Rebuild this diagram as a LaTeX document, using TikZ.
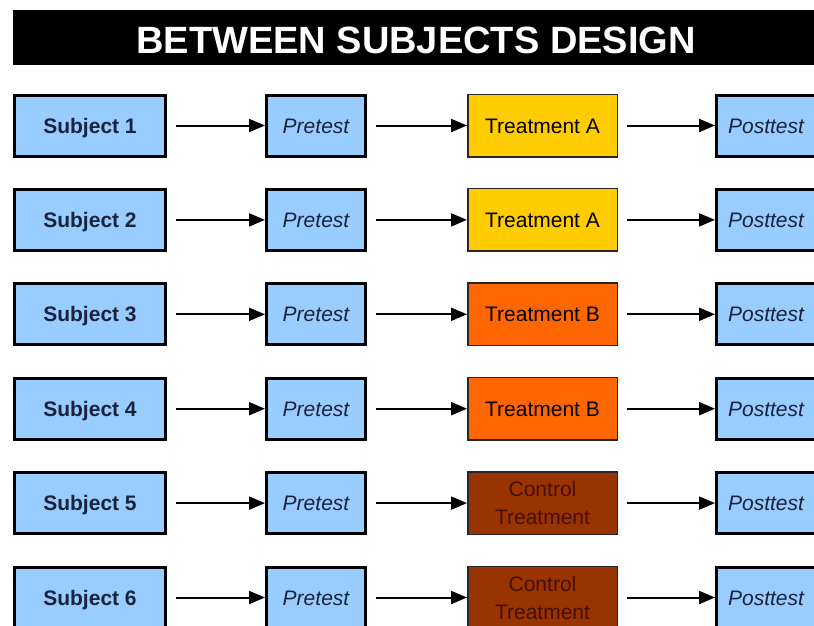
\documentclass[tikz,border=0pt]{standalone}
\usepackage{fontspec}
\setmainfont{Liberation Sans}
\usetikzlibrary{arrows.meta}
\definecolor{boxblue}{RGB}{153,204,255}
\definecolor{treatA}{RGB}{255,204,0}
\definecolor{treatB}{RGB}{255,102,0}
\definecolor{ctrl}{RGB}{153,51,0}
\definecolor{ctrltext}{RGB}{70,15,0}
\definecolor{navytext}{RGB}{25,35,60}
\tikzset{
  lbl/.style={font=\fontsize{21}{28}\selectfont},
  subj/.style={lbl,draw=black,line width=3pt,fill=boxblue,text=navytext,
    minimum width=151pt,minimum height=61pt,text height=15pt,text depth=0pt,
    font=\fontsize{21}{28}\selectfont\bfseries},
  test/.style={lbl,draw=black,line width=3pt,fill=boxblue,text=navytext,
    minimum width=99pt,minimum height=61pt,text height=15pt,text depth=0pt,
    font=\fontsize{21}{28}\selectfont\itshape},
  treat/.style={lbl,draw=black!85,line width=1.5pt,text=black,
    minimum width=149.5pt,minimum height=62.5pt},
  arr/.style={line width=2pt,-{Triangle[length=16pt,width=13pt]},shorten <=9pt}
}
\begin{document}
\begin{tikzpicture}[x=1pt,y=-1pt]
\useasboundingbox (0,0) rectangle (814,626);
\clip (0,0) rectangle (814,626);
\fill[white] (0,0) rectangle (814,626);
% title bar
\fill[black] (13,10) rectangle (814,65);
\node[text=white,font=\fontsize{38}{40}\selectfont\bfseries] (title) at (416,40.5) {BETWEEN SUBJECTS DESIGN};
% row 1
\node[subj] (s1) at (90,125.5) {Subject 1};
\node[test] (p1) at (316,125.5) {Pretest};
\node[treat,fill=treatA,text height=15pt,text depth=0pt] (t1) at (542.5,125.5) {Treatment A};
\node[test] (q1) at (766,125.5) {Posttest};
% row 2
\node[subj] (s2) at (90,219.9) {Subject 2};
\node[test] (p2) at (316,219.9) {Pretest};
\node[treat,fill=treatA,text height=15pt,text depth=0pt] (t2) at (542.5,219.9) {Treatment A};
\node[test] (q2) at (766,219.9) {Posttest};
% row 3
\node[subj] (s3) at (90,314.3) {Subject 3};
\node[test] (p3) at (316,314.3) {Pretest};
\node[treat,fill=treatB,text height=15pt,text depth=0pt] (t3) at (542.5,314.3) {Treatment B};
\node[test] (q3) at (766,314.3) {Posttest};
% row 4
\node[subj] (s4) at (90,408.7) {Subject 4};
\node[test] (p4) at (316,408.7) {Pretest};
\node[treat,fill=treatB,text height=15pt,text depth=0pt] (t4) at (542.5,408.7) {Treatment B};
\node[test] (q4) at (766,408.7) {Posttest};
% row 5
\node[subj] (s5) at (90,503.1) {Subject 5};
\node[test] (p5) at (316,503.1) {Pretest};
\node[treat,fill=ctrl,text=ctrltext,align=center] (t5) at (542.5,503.1) {Control\\Treatment};
\node[test] (q5) at (766,503.1) {Posttest};
% row 6
\node[subj] (s6) at (90,597.5) {Subject 6};
\node[test] (p6) at (316,597.5) {Pretest};
\node[treat,fill=ctrl,text=ctrltext,align=center] (t6) at (542.5,597.5) {Control\\Treatment};
\node[test] (q6) at (766,597.5) {Posttest};
% arrows
\draw[arr] (s1) -- (p1); \draw[arr] (p1) -- (t1); \draw[arr] (t1) -- (q1);
\draw[arr] (s2) -- (p2); \draw[arr] (p2) -- (t2); \draw[arr] (t2) -- (q2);
\draw[arr] (s3) -- (p3); \draw[arr] (p3) -- (t3); \draw[arr] (t3) -- (q3);
\draw[arr] (s4) -- (p4); \draw[arr] (p4) -- (t4); \draw[arr] (t4) -- (q4);
\draw[arr] (s5) -- (p5); \draw[arr] (p5) -- (t5); \draw[arr] (t5) -- (q5);
\draw[arr] (s6) -- (p6); \draw[arr] (p6) -- (t6); \draw[arr] (t6) -- (q6);
\end{tikzpicture}
\end{document}
